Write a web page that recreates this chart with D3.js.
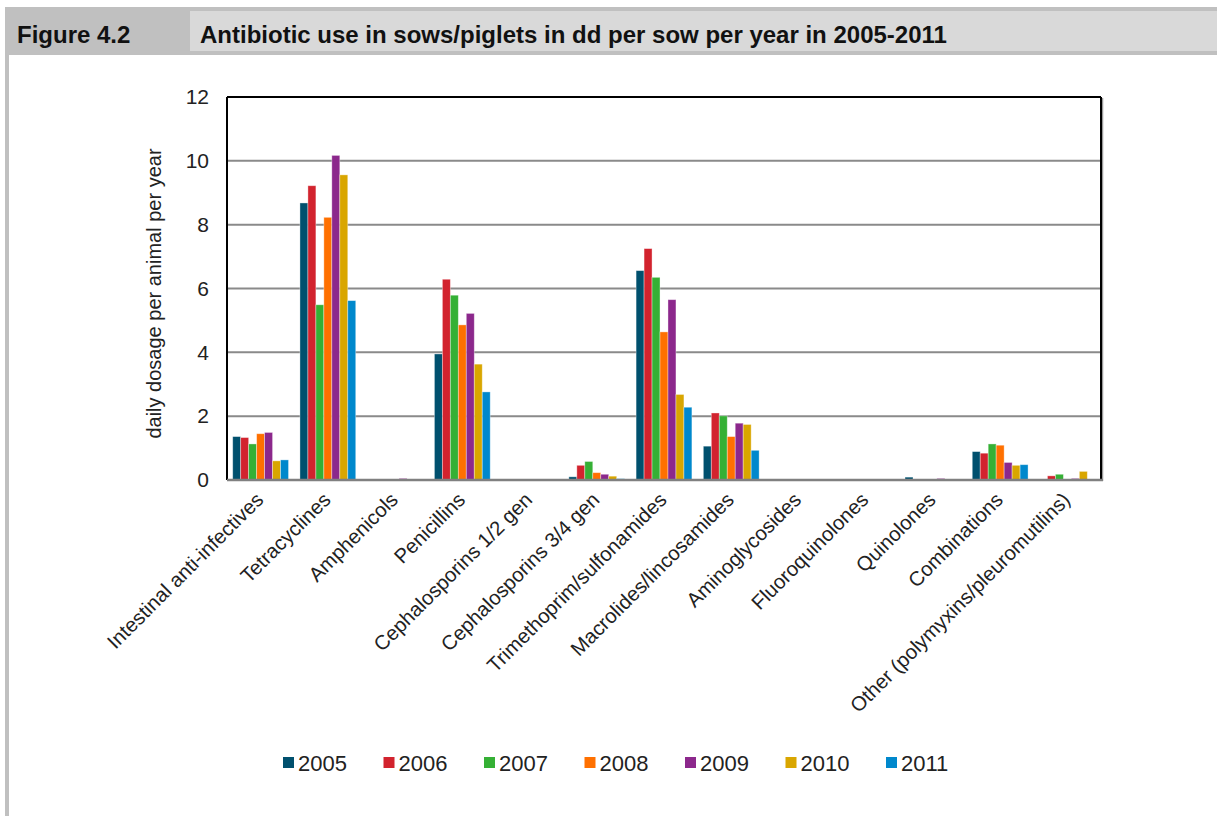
<!DOCTYPE html>
<html><head><meta charset="utf-8">
<script src="https://cdn.jsdelivr.net/npm/d3@7/dist/d3.min.js"></script>
<style>
html,body{margin:0;padding:0;background:#fff;}
svg{display:block;}
</style></head>
<body>
<svg id="c" width="1217" height="816"></svg>
<script>
const categories = ["Intestinal anti-infectives","Tetracyclines","Amphenicols","Penicillins","Cephalosporins 1/2 gen","Cephalosporins 3/4 gen","Trimethoprim/sulfonamides","Macrolides/lincosamides","Aminoglycosides","Fluoroquinolones","Quinolones","Combinations","Other (polymyxins/pleuromutilins)"];
const years = ["2005","2006","2007","2008","2009","2010","2011"];
const v2005 = [1.36, 8.68, 0, 3.95, 0, 0.10, 6.56, 1.06, 0, 0, 0.09, 0.89, 0];
const v2006 = [1.33, 9.22, 0, 6.29, 0, 0.46, 7.25, 2.10, 0, 0, 0, 0.84, 0.13];
const v2007 = [1.13, 5.49, 0, 5.79, 0, 0.58, 6.35, 2.01, 0, 0.02, 0, 1.13, 0.18];
const v2008 = [1.45, 8.23, 0, 4.86, 0, 0.23, 4.64, 1.36, 0, 0.02, 0, 1.09, 0.03];
const v2009 = [1.49, 10.17, 0.05, 5.22, 0, 0.18, 5.65, 1.78, 0, 0.03, 0.05, 0.55, 0.05];
const v2010 = [0.60, 9.56, 0, 3.63, 0, 0.12, 2.68, 1.74, 0, 0.02, 0, 0.46, 0.27];
const v2011 = [0.63, 5.62, 0.03, 2.76, 0, 0.04, 2.28, 0.93, 0, 0.02, 0, 0.48, 0];
const seriesValues = [v2005, v2006, v2007, v2008, v2009, v2010, v2011];
const yTicks = [0, 2, 4, 6, 8, 10, 12];
const colors = ["#00506e","#d2232e","#35b035","#ff7000","#8c288c","#d9a600","#0088cc"];

const svg = d3.select("#c");
const font = "'Liberation Sans',Arial,sans-serif";

// frame
svg.append("rect").attr("x",5).attr("y",7).attr("width",1212).attr("height",48).attr("fill","#c0c0c0");
svg.append("rect").attr("x",190).attr("y",11).attr("width",1027).attr("height",40).attr("fill","#d9d9d9");
svg.append("rect").attr("x",5).attr("y",55).attr("width",4).attr("height",761).attr("fill","#c0c0c0");
svg.append("text").attr("x",17).attr("y",43).attr("font-family",font).attr("font-weight","bold")
  .attr("font-size",24).attr("fill","#111").text("Figure 4.2");
svg.append("text").attr("x",200).attr("y",43).attr("font-family",font).attr("font-weight","bold")
  .attr("font-size",24).attr("fill","#111").text("Antibiotic use in sows/piglets in dd per sow per year in 2005-2011");

const L = 227, R = 1101, T = 97, B = 480;
const x0 = d3.scaleBand().domain(categories).range([L, R]).paddingInner(0.17).paddingOuter(0.085);
const x1 = d3.scaleBand().domain(years).range([0, x0.bandwidth()]);
const y = d3.scaleLinear().domain([0, 12]).range([B, T]);

// gridlines
svg.append("g").selectAll("line").data(yTicks.filter(t => t > 0 && t < 12)).join("line")
  .attr("x1", L).attr("x2", R).attr("y1", d => y(d)).attr("y2", d => y(d))
  .attr("stroke", "#8a8a8a").attr("stroke-width", 2);

// bars
const g = svg.append("g");
years.forEach((yr, i) => {
  g.append("g").selectAll("rect").data(categories.map((c, j) => ({c, v: seriesValues[i][j]})).filter(d => d.v > 0))
    .join("rect")
    .attr("x", d => x0(d.c) + x1(yr))
    .attr("width", x1.bandwidth())
    .attr("y", d => y(d.v))
    .attr("height", d => y(0) - y(d.v))
    .attr("fill", colors[i])
    .attr("stroke", "rgba(255,255,255,0.45)")
    .attr("stroke-width", 0.8);
});

// plot border
svg.append("line").attr("x1",L).attr("x2",R).attr("y1",T).attr("y2",T).attr("stroke","#000").attr("stroke-width",2);
svg.append("line").attr("x1",L).attr("x2",L).attr("y1",T).attr("y2",B).attr("stroke","#000").attr("stroke-width",2);
svg.append("line").attr("x1",R+1.5).attr("x2",R+1.5).attr("y1",T+1).attr("y2",B+1).attr("stroke","#999").attr("stroke-width",1.5);
svg.append("line").attr("x1",R).attr("x2",R).attr("y1",T).attr("y2",B).attr("stroke","#000").attr("stroke-width",2);
svg.append("line").attr("x1",L).attr("x2",R+2).attr("y1",B).attr("y2",B).attr("stroke","#808080").attr("stroke-width",2.5);

// y axis
const yAxis = svg.append("g").attr("transform", `translate(${L},0)`)
  .call(d3.axisLeft(y).tickValues(yTicks).tickSize(0).tickPadding(18).tickFormat(d3.format("d")));
yAxis.select(".domain").remove();
yAxis.selectAll("text").attr("font-family", font).attr("font-size", 21).attr("fill", "#222");

svg.append("text").attr("transform", `translate(161,${(T+B)/2 + 5}) rotate(-90)`)
  .attr("text-anchor","middle").attr("font-family",font).attr("font-size",20).attr("fill","#222")
  .text("daily dosage per animal per year");

// x axis labels
const xAxis = svg.append("g").attr("transform", `translate(0,${B})`)
  .call(d3.axisBottom(x0).tickSize(0).tickPadding(0));
xAxis.select(".domain").remove();
xAxis.selectAll("text")
  .attr("font-family", font).attr("font-size", 20.3).attr("fill", "#222")
  .attr("text-anchor", "end").attr("dy", 0).attr("y", 0)
  .attr("transform", "translate(4,21) rotate(-45)");

// legend
const lg = svg.append("g");
years.forEach((yr, i) => {
  const gx = 283 + i * 100.5;
  lg.append("rect").attr("x", gx).attr("y", 757).attr("width", 11).attr("height", 11).attr("fill", colors[i]);
  lg.append("text").attr("x", gx + 15).attr("y", 771).attr("font-family", font).attr("font-size", 22)
    .attr("fill", "#222").text(yr);
});
</script>
</body></html>
